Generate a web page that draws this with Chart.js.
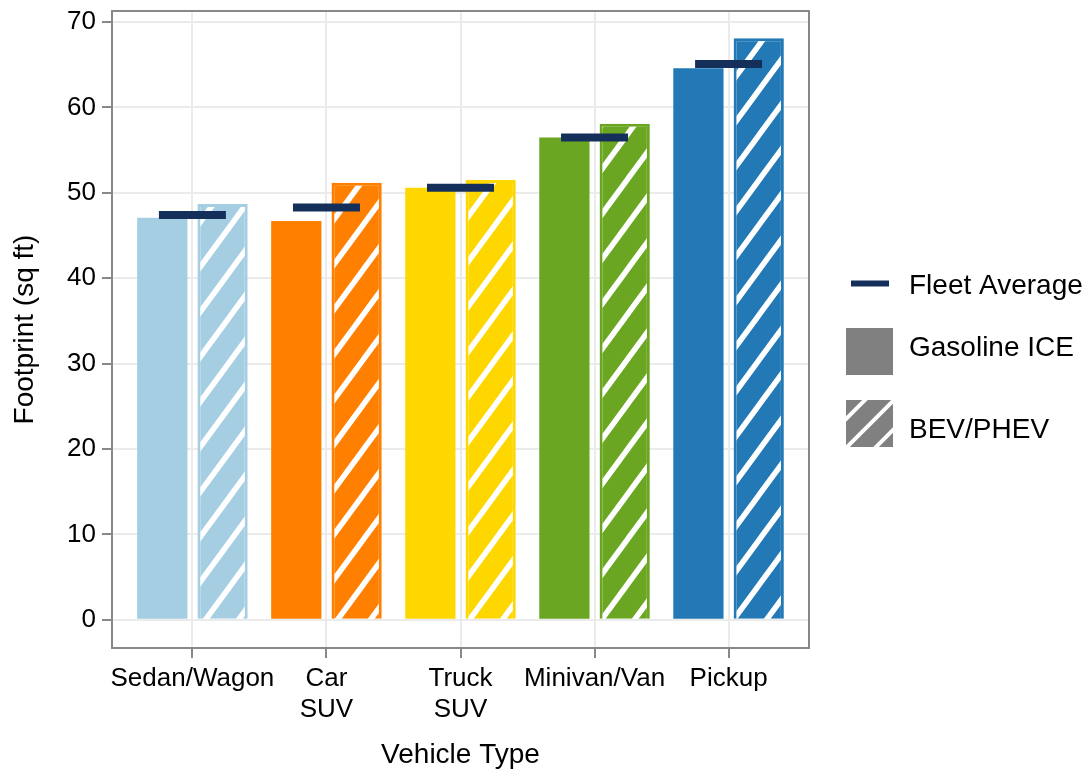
<!DOCTYPE html>
<html>
<head>
<meta charset="utf-8">
<script src="https://cdn.jsdelivr.net/npm/chart.js@4"></script>
<style>
  html, body { margin: 0; padding: 0; background: #fff; }
</style>
</head>
<body>
<canvas id="footprintChart" width="1092" height="775"></canvas>
<script>
// データ
const vehicleTypes = ['Sedan/Wagon', ['Car', 'SUV'], ['Truck', 'SUV'], 'Minivan/Van', 'Pickup'];
const barColors = ['#a6cee3', '#ff7f00', '#ffd700', '#6aa621', '#2279b5'];
const gasolineIce = [47.1, 46.7, 50.6, 56.5, 64.6];
const bevPhev = [48.7, 51.2, 51.5, 58.1, 68.1];
const fleetAverage = [47.4, 48.3, 50.6, 56.5, 65.1];
const yTicks = [0, 10, 20, 30, 40, 50, 60, 70];

const FONT = "'Liberation Sans', Arial, sans-serif";
const canvas = document.getElementById('footprintChart');
const ctx = canvas.getContext('2d');

// 斜線パターン (線はタイルの外まで伸ばして継ぎ目を消す)
function hatch(color, w, h, lw, dx, dy) {
    const c = document.createElement('canvas');
    c.width = w;
    c.height = h;
    const g = c.getContext('2d');
    g.fillStyle = color;
    g.fillRect(0, 0, w, h);
    g.strokeStyle = '#fff';
    g.lineWidth = lw;
    g.beginPath();
    for (let k = -1; k <= 1; k++) {
        g.moveTo(k * w - w, 2 * h);
        g.lineTo(k * w + 2 * w, -h);
    }
    g.stroke();
    const p = ctx.createPattern(c, 'repeat');
    if (dx || dy) p.setTransform(new DOMMatrix().translate(dx || 0, dy || 0));
    return p;
}

// 凡例
const sideLegend = {
    id: 'sideLegend',
    afterDraw(chart) {
        const c = chart.ctx;
        const x0 = chart.chartArea.right + 37;
        c.save();
        c.fillStyle = '#14305a';
        c.fillRect(x0 + 5, 280.5, 38, 6);
        c.fillStyle = '#808080';
        c.fillRect(x0, 328, 47, 47);
        c.fillStyle = hatch('#808080', 29, 29, 4, x0 + 19, 400);
        c.fillRect(x0, 400, 47, 47);
        c.fillStyle = '#000';
        c.font = '28px ' + FONT;
        c.textBaseline = 'middle';
        c.textAlign = 'left';
        c.fillText('Fleet Average', x0 + 63, 286);
        c.fillText('Gasoline ICE', x0 + 63, 348);
        c.fillText('BEV/PHEV', x0 + 63, 430);
        c.restore();
    }
};

// 枠線
const frame = {
    id: 'frame',
    afterDraw(chart) {
        const a = chart.chartArea;
        const c = chart.ctx;
        c.save();
        c.strokeStyle = '#888';
        c.lineWidth = 2;
        c.strokeRect(a.left, a.top, a.right - a.left, a.bottom - a.top);
        c.restore();
    }
};

const toPoints = arr => arr.map((v, i) => ({ x: i, y: v }));

new Chart(ctx, {
    type: 'bar',
    data: {
        datasets: [{
            type: 'line',
            label: 'Fleet Average',
            data: toPoints(fleetAverage),
            showLine: false,
            pointStyle: 'line',
            pointRadius: 33.5,
            pointHoverRadius: 33.5,
            pointBorderWidth: 8,
            pointHoverBorderWidth: 8,
            borderColor: '#14305a',
            backgroundColor: '#14305a',
            order: 0
        }, {
            label: 'Gasoline ICE',
            data: toPoints(gasolineIce),
            backgroundColor: barColors,
            categoryPercentage: 0.9,
            barPercentage: 0.833,
            order: 1
        }, {
            label: 'BEV/PHEV',
            data: toPoints(bevPhev),
            backgroundColor: barColors.map(c => hatch(c, 33, 45, 5.5)),
            borderColor: barColors,
            borderWidth: 3,
            categoryPercentage: 0.9,
            barPercentage: 0.833,
            order: 1
        }]
    },
    options: {
        responsive: false,
        animation: false,
        layout: { autoPadding: false, padding: { top: 11, right: 283, bottom: 0, left: 0 } },
        plugins: {
            legend: { display: false },
            tooltip: { enabled: false }
        },
        scales: {
            x: {
                type: 'linear',
                min: -0.6,
                max: 4.6,
                offset: false,
                afterBuildTicks: axis => { axis.ticks = vehicleTypes.map((_, i) => ({ value: i })); },
                afterFit: axis => { axis.height = 127; axis.paddingLeft = 0; axis.paddingRight = 0; },
                grid: { offset: false, color: '#ebebeb', lineWidth: 2, tickColor: '#888', tickWidth: 2, tickLength: 10 },
                border: { display: false },
                ticks: {
                    callback: v => vehicleTypes[v],
                    maxRotation: 0,
                    minRotation: 0,
                    autoSkip: false,
                    padding: 5,
                    color: '#000',
                    font: { family: FONT, size: 26 }
                },
                title: {
                    display: true,
                    text: 'Vehicle Type',
                    color: '#000',
                    font: { family: FONT, size: 28 },
                    padding: { top: 0, bottom: 3 }
                }
            },
            y: {
                min: -3.3,
                max: 71.3,
                afterBuildTicks: axis => { axis.ticks = yTicks.map(v => ({ value: v })); },
                afterFit: axis => { axis.width = 112; axis.paddingTop = 0; axis.paddingBottom = 0; },
                grid: { color: '#ebebeb', lineWidth: 2, tickColor: '#888', tickWidth: 2, tickLength: 10 },
                border: { display: false },
                ticks: {
                    padding: 6,
                    color: '#000',
                    font: { family: FONT, size: 26 }
                },
                title: {
                    display: true,
                    text: 'Footprint (sq ft)',
                    color: '#000',
                    font: { family: FONT, size: 28 },
                    padding: { top: 8, bottom: 0 }
                }
            }
        }
    },
    plugins: [frame, sideLegend]
});
</script>
</body>
</html>
